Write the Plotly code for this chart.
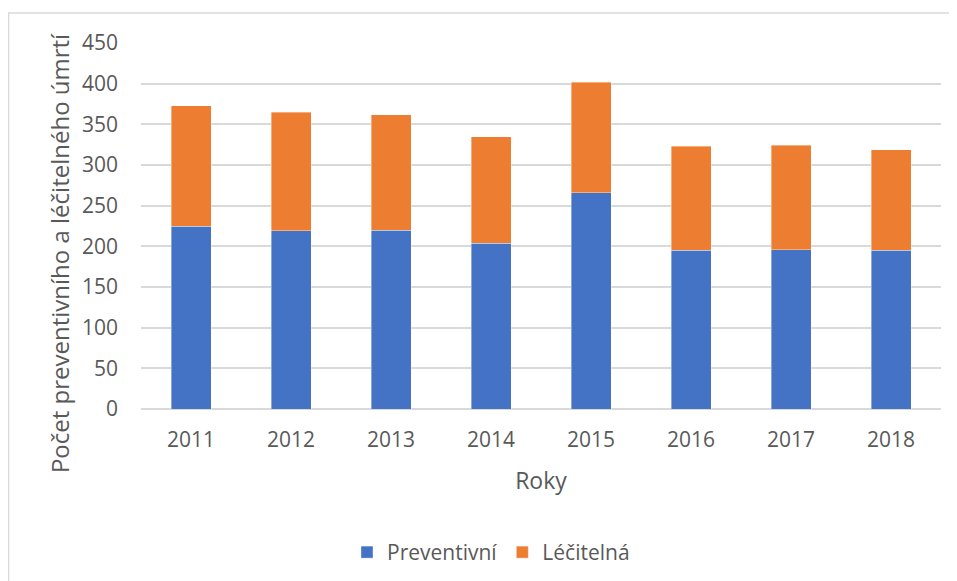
import plotly.graph_objects as go

years = ["2011", "2012", "2013", "2014", "2015", "2016", "2017", "2018"]
preventivni = [225, 219, 220, 204, 266, 195, 196, 195]
lecitelna = [148, 146, 142, 131, 136, 128, 128, 124]
y_ticks = [0, 50, 100, 150, 200, 250, 300, 350, 400, 450]

FONT = "Open Sans"
TXT = "#595959"

fig = go.Figure()
fig.add_trace(go.Bar(
    x=years, y=preventivni, name="Preventivní",
    marker=dict(color="#4472C4", line=dict(color="rgba(255,255,255,0.5)", width=0.75)),
))
fig.add_trace(go.Bar(
    x=years, y=lecitelna, name="Léčitelná",
    marker=dict(color="#ED7D31", line=dict(color="rgba(255,255,255,0.5)", width=0.75)),
))

fig.update_layout(
    width=957, height=581,
    barmode="stack", bargap=0.6,
    plot_bgcolor="white", paper_bgcolor="white",
    margin=dict(l=133, r=24, t=35, b=180),
    font=dict(family=FONT, color=TXT, size=21),
    showlegend=True,
    legend=dict(
        orientation="h", x=0.4375, xanchor="center", y=-0.392, yanchor="middle",
        font=dict(family=FONT, size=21, color=TXT), traceorder="normal",
        itemwidth=30,
    ),
    xaxis=dict(
        showgrid=False, showline=False, zeroline=False,
        tickfont=dict(family=FONT, size=21, color=TXT),
        ticks="", ticklabelstandoff=16,
        title=dict(text="Roky", font=dict(family=FONT, size=23, color=TXT), standoff=20),
    ),
    yaxis=dict(
        range=[0, 450], tickvals=y_ticks,
        showgrid=True, gridcolor="#D9D9D9", gridwidth=1.5,
        zeroline=True, zerolinecolor="#D9D9D9", zerolinewidth=1.5,
        showline=False, ticks="", ticklabelstandoff=22,
        tickfont=dict(family=FONT, size=21, color=TXT),
    ),
    annotations=[dict(
        text="Počet preventivního a léčitelného úmrtí",
        xref="paper", yref="paper", x=-0.1025, y=0.426,
        xanchor="center", yanchor="middle", textangle=-90, showarrow=False,
        font=dict(family=FONT, size=24, color=TXT),
    )],
    shapes=[dict(type="rect", xref="paper", yref="paper",
                 x0=-0.1656, x1=1.2, y0=-0.6, y1=1.082,
                 line=dict(color="#D9D9D9", width=1.5), fillcolor="rgba(0,0,0,0)",
                 layer="below")],
)

fig.write_html("out.html")
